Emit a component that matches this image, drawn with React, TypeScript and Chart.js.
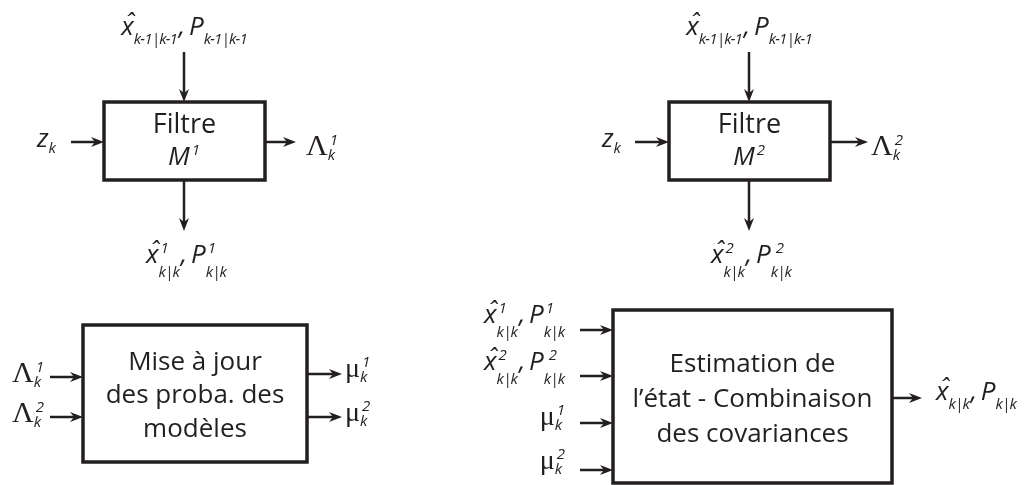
import React, { useEffect, useRef } from "react";
import { Chart, registerables } from "chart.js";

Chart.register(...registerables);

const INK = "#231f20";
const W = 1027;
const H = 485;
const SANS = "'Open Sans', 'Noto Sans', sans-serif";
const SERIF = "'Liberation Serif', 'DejaVu Serif', serif";

// ---- diagram content ----
const blockLeft = [104, 669, 83, 613];
const blockTop = [102, 102, 325, 310];
const blockRight = [265, 830, 307, 892];
const blockBottom = [180, 180, 462, 483];

const blockText: string[][] = [
  ["Filtre"],
  ["Filtre"],
  ["Mise à jour", "des proba. des", "modèles"],
  ["Estimation de", "l’état - Combinaison", "des covariances"],
];
const blockModelSup = ["1", "2", "", ""];

// arrows: from (x0,y0) to (x1,y1)
const arrowFromX = [184, 71, 265, 184, 749, 635, 830, 749, 50, 50, 307, 307, 580, 580, 580, 580, 892];
const arrowFromY = [52, 142, 142, 180, 52, 142, 142, 180, 377, 417, 374, 417, 330, 376, 423, 470, 398];
const arrowToX = [184, 104, 296, 184, 749, 669, 868, 749, 83, 83, 342, 342, 613, 613, 613, 613, 922];
const arrowToY = [102, 142, 142, 231, 102, 142, 142, 231, 377, 417, 374, 417, 330, 376, 423, 470, 398];

type Part = { b: string; f: string; sup?: string; sub?: string; hat?: boolean };
const P = (b: string, f: string, sup?: string, sub?: string, hat?: boolean): Part => ({ b, f, sup, sub, hat });

const prevState: Part[] = [P("x", "i", "", "k-1|k-1", true), P(",", "i"), P(" ", "s"), P("P", "i", "", "k-1|k-1")];
const est1: Part[] = [P("x", "i", "1", "k|k", true), P(",", "i"), P(" ", "s"), P("P", "i", "1", "k|k")];
const est2: Part[] = [P("x", "i", "2", "k|k", true), P(",", "i"), P(" ", "s"), P("P", "i", " 2", "k|k")];
const zk: Part[] = [P("z", "z", "", "k")];
const lam1: Part[] = [P("Λ", "L", "1", "k")];
const lam2: Part[] = [P("Λ", "L", "2", "k")];
const mu1: Part[] = [P("μ", "m", "1", "k")];
const mu2: Part[] = [P("μ", "m", "2", "k")];
const estOut: Part[] = [P("x", "i", "", "k|k", true), P(",", "i"), P(" ", "s"), P("P", "i", "", "k|k")];

const labelParts: Part[][] = [
  prevState, prevState, zk, zk, lam1, lam2, est1, est2,
  lam1, lam2, mu1, mu2,
  est1, est2, mu1, mu2, estOut,
];
const labelX = [185, 750, 37, 602, 306, 871, 187, 752, 12, 12, 345, 345, 566, 566, 566, 566, 936];
const labelY = [35, 35, 147, 147, 155, 155, 263, 263, 382, 422, 377, 421, 323, 370, 425, 469, 400];
const labelAlign = ["center", "center", "left", "left", "left", "left", "center", "center",
  "left", "left", "left", "left", "right", "right", "right", "right", "left"];

const fonts: Record<string, string> = {
  i: `italic 26px ${SANS}`,
  z: `italic 26px ${SANS}`,
  s: `14px ${SANS}`,
  L: `30px ${SERIF}`,
  m: `28px ${SERIF}`,
  M: `italic 26px ${SANS}`,
};
const SMALL = `italic 15px ${SANS}`;

function subOffset(p: Part) {
  if (p.f === "L" || p.f === "m") return 5;
  if (p.f === "z") return 6;
  return p.sup ? 14 : 9;
}

function smallWidth(ctx: CanvasRenderingContext2D, s: string) {
  return ctx.measureText(s).width - 0.8 * Math.max(0, s.length - 1);
}

function drawSmall(ctx: CanvasRenderingContext2D, s: string, x: number, y: number) {
  let cx = x;
  for (const ch of s) {
    ctx.fillText(ch, cx, y);
    cx += ctx.measureText(ch).width - 0.8;
  }
}

function partWidth(ctx: CanvasRenderingContext2D, p: Part) {
  ctx.font = fonts[p.f];
  let w = ctx.measureText(p.b).width;
  ctx.font = SMALL;
  const s = Math.max(p.sup ? smallWidth(ctx, p.sup) + 2 : 0, p.sub ? smallWidth(ctx, p.sub) : 0);
  if (s > 0) w += s + 1;
  return w;
}

function drawMath(ctx: CanvasRenderingContext2D, parts: Part[], x: number, y: number, align: string) {
  const total = parts.reduce((a, p) => a + partWidth(ctx, p), 0);
  let cx = align === "center" ? x - total / 2 : align === "right" ? x - total : x;
  ctx.textAlign = "left";
  ctx.textBaseline = "alphabetic";
  for (const p of parts) {
    ctx.font = fonts[p.f];
    const bw = ctx.measureText(p.b).width;
    ctx.fillText(p.b, cx, y);
    if (p.hat) {
      ctx.textAlign = "center";
      ctx.fillText("ˆ", cx + bw / 2 + 2, y - 3);
      ctx.textAlign = "left";
    }
    let nx = cx + bw;
    ctx.font = SMALL;
    let sw = 0;
    if (p.sup) {
      drawSmall(ctx, p.sup, nx + 2, y - 10);
      sw = Math.max(sw, smallWidth(ctx, p.sup) + 2);
    }
    if (p.sub) {
      drawSmall(ctx, p.sub, nx, y + subOffset(p));
      sw = Math.max(sw, smallWidth(ctx, p.sub));
    }
    if (sw > 0) nx += sw + 1;
    cx = nx;
  }
}

const diagramPlugin = {
  id: "diagram",
  afterDatasetsDraw(chart: any) {
    const ctx: CanvasRenderingContext2D = chart.ctx;
    const xs = chart.scales.x;
    const ys = chart.scales.y;
    ctx.save();
    ctx.fillStyle = INK;
    for (let i = 0; i < arrowToX.length; i++) {
      const x0 = xs.getPixelForValue(arrowFromX[i]);
      const y0 = ys.getPixelForValue(arrowFromY[i]);
      const x1 = xs.getPixelForValue(arrowToX[i]);
      const y1 = ys.getPixelForValue(arrowToY[i]);
      const len = Math.hypot(x1 - x0, y1 - y0);
      const dx = (x1 - x0) / len;
      const dy = (y1 - y0) / len;
      const nx = -dy;
      const ny = dx;
      const L = 13;
      const hw = 5;
      ctx.beginPath();
      ctx.moveTo(x1, y1);
      ctx.lineTo(x1 - dx * L + nx * hw, y1 - dy * L + ny * hw);
      ctx.lineTo(x1 - dx * (L - 4), y1 - dy * (L - 4));
      ctx.lineTo(x1 - dx * L - nx * hw, y1 - dy * L - ny * hw);
      ctx.closePath();
      ctx.fill();
    }
    for (let b = 0; b < blockText.length; b++) {
      const cx = xs.getPixelForValue((blockLeft[b] + blockRight[b]) / 2);
      ctx.textAlign = "center";
      ctx.textBaseline = "alphabetic";
      if (b < 2) {
        ctx.font = `27px ${SANS}`;
        ctx.fillText(blockText[b][0], cx, ys.getPixelForValue(133));
        drawMath(ctx, [P("M", "M", blockModelSup[b])], cx, ys.getPixelForValue(165), "center");
      } else if (b === 2) {
        const base = [370, 403, 437];
        ctx.font = `26px ${SANS}`;
        blockText[b].forEach((t, k) => ctx.fillText(t, cx, ys.getPixelForValue(base[k])));
      } else {
        const base = [372, 407, 442];
        ctx.font = `26px ${SANS}`;
        blockText[b].forEach((t, k) => ctx.fillText(t, cx, ys.getPixelForValue(base[k])));
      }
    }
    for (let i = 0; i < labelParts.length; i++) {
      drawMath(ctx, labelParts[i], xs.getPixelForValue(labelX[i]), ys.getPixelForValue(labelY[i]), labelAlign[i]);
    }
    ctx.restore();
  },
};

export default function App() {
  const ref = useRef<HTMLCanvasElement>(null);
  useEffect(() => {
    document.body.style.margin = "0";
    const canvas = ref.current!;
    const datasets: any[] = [];
    for (let b = 0; b < blockLeft.length; b++) {
      datasets.push({
        data: [
          { x: blockLeft[b], y: blockTop[b] },
          { x: blockRight[b], y: blockTop[b] },
          { x: blockRight[b], y: blockBottom[b] },
          { x: blockLeft[b], y: blockBottom[b] },
          { x: blockLeft[b], y: blockTop[b] },
        ],
        borderColor: INK,
        borderWidth: 3.5,
        borderJoinStyle: "miter",
        borderCapStyle: "square",
        pointRadius: 0,
        fill: false,
        tension: 0,
      });
    }
    for (let i = 0; i < arrowToX.length; i++) {
      const len = Math.hypot(arrowToX[i] - arrowFromX[i], arrowToY[i] - arrowFromY[i]);
      const dx = (arrowToX[i] - arrowFromX[i]) / len;
      const dy = (arrowToY[i] - arrowFromY[i]) / len;
      datasets.push({
        data: [
          { x: arrowFromX[i], y: arrowFromY[i] },
          { x: arrowToX[i] - dx * 9, y: arrowToY[i] - dy * 9 },
        ],
        borderColor: INK,
        borderWidth: 2.5,
        pointRadius: 0,
        fill: false,
      });
    }
    const chart = new Chart(canvas, {
      type: "line",
      data: { datasets },
      options: {
        animation: false,
        responsive: false,
        maintainAspectRatio: false,
        layout: { padding: 0 },
        plugins: { legend: { display: false }, tooltip: { enabled: false } },
        scales: {
          x: { type: "linear", min: 0, max: W, display: false },
          y: { type: "linear", min: 0, max: H, reverse: true, display: false },
        },
      },
      plugins: [diagramPlugin],
    } as any);
    return () => chart.destroy();
  }, []);
  return (
    <div style={{ width: W, height: H, background: "#fff" }}>
      <canvas ref={ref} width={W} height={H} />
    </div>
  );
}
